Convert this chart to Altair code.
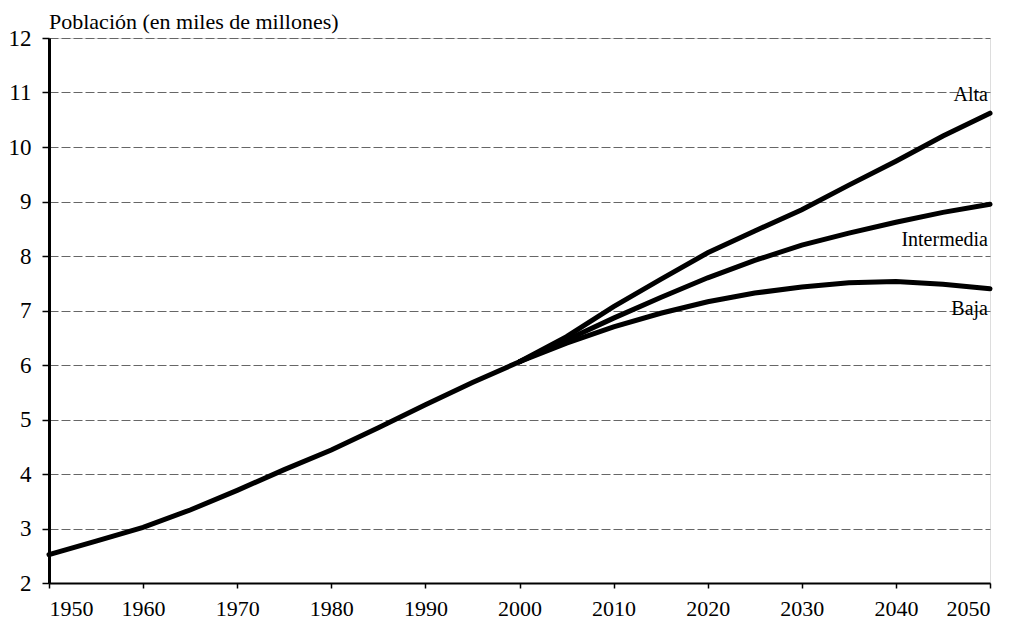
import altair as alt
import pandas as pd

years_hist = [1950, 1955, 1960, 1965, 1970, 1975, 1980, 1985, 1990, 1995, 2000]
pop_hist = [2.52, 2.77, 3.02, 3.34, 3.70, 4.08, 4.44, 4.85, 5.27, 5.68, 6.06]

years_proj = [2000, 2005, 2010, 2015, 2020, 2025, 2030, 2035, 2040, 2045, 2050]
alta = [6.06, 6.52, 7.07, 7.57, 8.06, 8.46, 8.85, 9.30, 9.74, 10.20, 10.62]
intermedia = [6.06, 6.46, 6.86, 7.24, 7.60, 7.92, 8.20, 8.42, 8.62, 8.80, 8.95]
baja = [6.06, 6.40, 6.70, 6.95, 7.16, 7.32, 7.43, 7.51, 7.53, 7.48, 7.40]

label_names = ["Alta", "Intermedia", "Baja"]
label_years = [2050, 2050, 2050]
label_values = [10.95, 8.30, 7.03]

y_ticks = list(range(2, 13))
x_ticks = list(range(1950, 2051, 10))

FONT = "Liberation Serif, Times New Roman, serif"

rows = []
for y, v in zip(years_hist, pop_hist):
    rows.append({"year": y, "pop": v, "serie": "Histórica"})
for name, vals in [("Alta", alta), ("Intermedia", intermedia), ("Baja", baja)]:
    for y, v in zip(years_proj, vals):
        rows.append({"year": y, "pop": v, "serie": name})
df = pd.DataFrame(rows)

labels = pd.DataFrame({"name": label_names, "year": label_years, "pop": label_values})

xscale = alt.Scale(domain=[1950, 2050], nice=False, zero=False)
yscale = alt.Scale(domain=[2, 12], nice=False, zero=False)

base = alt.Chart(df)

lines = base.mark_line(color="black", strokeWidth=5, strokeCap="round").encode(
    x=alt.X("year:Q", scale=xscale,
            axis=alt.Axis(values=x_ticks, format="d", title=None, grid=False,
                          tickSize=5, tickColor="black", tickWidth=1.5,
                          domainColor="black", domainWidth=2,
                          labelFontSize=22, labelColor="black",
                          labelPadding=10)),
    y=alt.Y("pop:Q", scale=yscale,
            axis=alt.Axis(values=y_ticks, title=None, grid=True,
                          gridColor="#666666", gridDash=[9, 3], gridWidth=1,
                          tickSize=7, tickColor="black", tickWidth=1.5,
                          domainColor="black", domainWidth=3,
                          labelFontSize=23, labelColor="black",
                          labelPadding=11)),
    detail="serie:N",
)

text = alt.Chart(labels).mark_text(
    fontSize=20, color="black", align="right", baseline="middle", dx=-2
).encode(
    x=alt.X("year:Q", scale=xscale),
    y=alt.Y("pop:Q", scale=yscale),
    text="name:N",
)

chart = alt.layer(lines, text).properties(
    width=941,
    height=545,
    autosize=alt.AutoSizeParams(type="none"),
    padding={"left": 41, "top": 30, "right": 20, "bottom": 42},
    title=alt.Title("Población (en miles de millones)", anchor="start",
                    fontSize=22, fontWeight="normal", color="black",
                    offset=-7, frame="group"),
).configure_view(
    stroke="black", strokeWidth=2
).configure(
    background="white", font=FONT
).configure_axis(
    labelFont=FONT
).configure_title(
    font=FONT
).configure_text(
    font=FONT
)

chart.save("out.html", embed_options={"renderer": "svg", "actions": False})
